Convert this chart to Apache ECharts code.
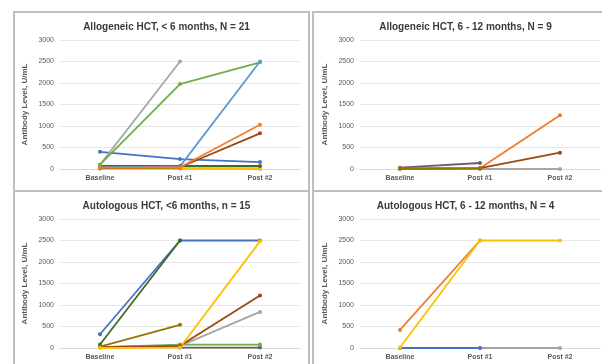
<!DOCTYPE html>
<html>
<head>
<meta charset="utf-8">
<script src="https://cdn.jsdelivr.net/npm/echarts@6/dist/echarts.min.js"></script>
<style>
html,body{margin:0;padding:0;background:#fff;}
#c{width:602px;height:364px;}
</style>
</head>
<body>
<div id="c"></div>
<script>
const categories = ['Baseline', 'Post #1', 'Post #2'];
const yMin = 0, yMax = 3000, yStep = 500;

const titles = [
  'Allogeneic HCT, < 6 months, N = 21',
  'Allogeneic HCT, 6 - 12 months, N = 9',
  'Autologous HCT, <6 months, n = 15',
  'Autologous HCT, 6 - 12 months, N = 4'
];
const yAxisName = 'Antibody Level, U/mL';

// Panel 1: Allogeneic < 6 months
const allo6Values = [
  [10, 10, 10],
  [15, 15, 0],
  [20, 20, 20],
  [70, 70, 70],
  [400, 230, 160],
  [100, 2500, null],
  [100, 1975, 2480],
  [40, 60, 2500],
  [20, 40, 830],
  [20, 40, 1030],
  [25, 25, null],
  [30, 30, null]
];
const allo6Colors = ['#F1975A', '#B7B7B7', '#FFC000', '#43682B', '#4472C4', '#A5A5A5', '#70AD47', '#5B9BD5', '#9E480E', '#ED7D31', '#997300', '#ED7D31'];

// Panel 2: Allogeneic 6 - 12 months
const allo12Values = [
  [0, 0, 0],
  [30, 140, null],
  [10, 20, 1250],
  [10, 20, 380],
  [10, 10, null]
];
const allo12Colors = ['#A5A5A5', '#636363', '#ED7D31', '#9E480E', '#997300'];

// Panel 3: Autologous < 6 months
const auto6Values = [
  [null, 10, 10],
  [20, 80, 80],
  [20, 50, 840],
  [20, 50, 1220],
  [320, 2500, 2500],
  [80, 2500, null],
  [30, 540, null],
  [0, 10, 2480]
];
const auto6Colors = ['#636363', '#70AD47', '#A5A5A5', '#9E480E', '#4472C4', '#43682B', '#997300', '#FFC000'];

// Panel 4: Autologous 6 - 12 months
const auto12Values = [
  [null, 0, 0],
  [0, 0, null],
  [420, 2500, null],
  [10, 2500, 2500]
];
const auto12Colors = ['#A5A5A5', '#4472C4', '#ED7D31', '#FFC000'];

const panels = [
  {values: allo6Values, colors: allo6Colors, x: 14, y: 12, gl: 60, gt: 40},
  {values: allo12Values, colors: allo12Colors, x: 313, y: 12, gl: 360, gt: 40},
  {values: auto6Values, colors: auto6Colors, x: 14, y: 191, gl: 60, gt: 219},
  {values: auto12Values, colors: auto12Colors, x: 313, y: 191, gl: 360, gt: 219}
];

const FONT = '"Liberation Sans Narrow", "Liberation Sans", sans-serif';

const chart = echarts.init(document.getElementById('c'), null, {renderer: 'canvas'});
const option = {
  animation: false,
  backgroundColor: '#ffffff',
  title: [], grid: [], xAxis: [], yAxis: [], series: [],
  graphic: []
};

panels.forEach((p, i) => {
  option.graphic.push({
    type: 'rect', silent: true, z: -10,
    shape: {x: p.x, y: p.y, width: 295, height: 200},
    style: {fill: '#ffffff', stroke: '#bfbfbf', lineWidth: 2}
  });
  option.title.push({
    text: titles[i],
    left: p.x + 147.5, top: p.y + 5, textAlign: 'center',
    textStyle: {fontFamily: FONT, fontSize: 10, fontWeight: 'bold', color: '#3a3a3a'}
  });
  option.grid.push({left: p.gl, top: p.gt, width: 240, height: 129});
  option.xAxis.push({
    type: 'category', gridIndex: i, data: categories, boundaryGap: true,
    axisTick: {show: false},
    axisLine: {lineStyle: {color: '#d9d9d9', width: 1}},
    axisLabel: {fontFamily: FONT, fontSize: 7, fontWeight: 'bold', color: '#595959', margin: 6}
  });
  option.yAxis.push({
    type: 'value', gridIndex: i, min: yMin, max: yMax, interval: yStep,
    name: yAxisName, nameLocation: 'middle', nameGap: 31,
    nameTextStyle: {fontFamily: FONT, fontSize: 8, fontWeight: 'bold', color: '#595959'},
    axisLine: {show: false}, axisTick: {show: false},
    axisLabel: {fontFamily: FONT, fontSize: 7, color: '#595959', margin: 6, formatter: v => String(v)},
    splitLine: {lineStyle: {color: '#e6e6e6', width: 1}}
  });
  p.values.forEach((vals, k) => {
    option.series.push({
      type: 'line', xAxisIndex: i, yAxisIndex: i, data: vals,
      color: p.colors[k], symbol: 'circle', symbolSize: 4,
      lineStyle: {width: 1.8}, connectNulls: false
    });
  });
});

chart.setOption(option);
</script>
</body>
</html>
